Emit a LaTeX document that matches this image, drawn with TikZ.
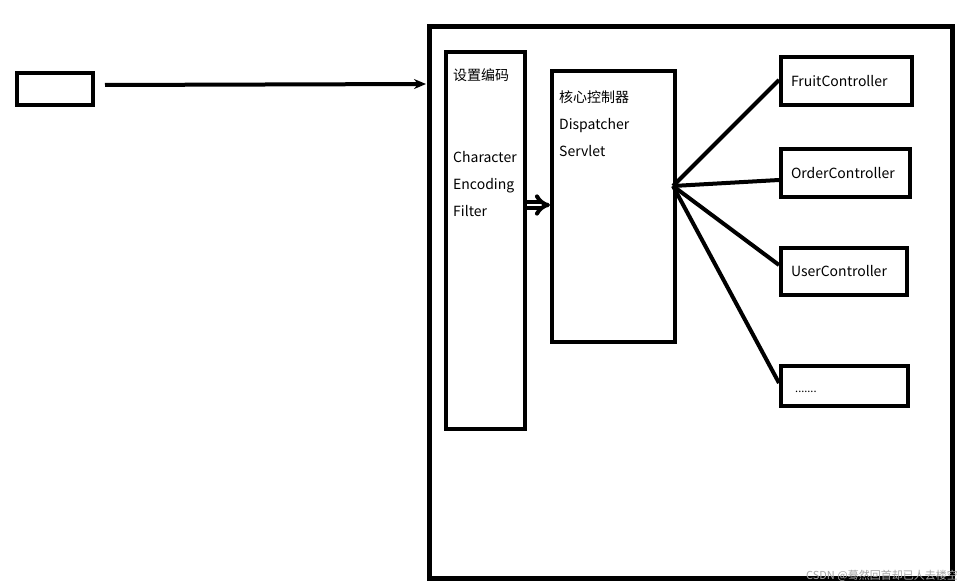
\documentclass[tikz,border=0pt]{standalone}
\usepackage{fontspec}
\setmainfont{Noto Sans CJK SC}
\usetikzlibrary{arrows.meta}
\tikzset{
    box/.style={draw, line width=4pt, inner sep=0pt},
    lbl/.style={anchor=north west, inner sep=0pt, font=\fontsize{14}{27}\selectfont, align=left},
    ctrl/.style={draw, line width=4pt, minimum height=48pt, inner xsep=10pt, align=left, font=\fontsize{14}{16}\selectfont},
    link/.style={line width=4pt}
}
\begin{document}
\begin{tikzpicture}[x=1pt, y=-1pt]
        \useasboundingbox (0,0) rectangle (961,583);

        % client box and request arrow
        \node[box, minimum width=76pt, minimum height=32pt] (client) at (55,89) {};
        \draw[link, -{Stealth[length=12pt, width=10pt]}] (client.east) ++(10,-4) coordinate (req) -- (426,84) coordinate (reqend);

        % server (big box)
        \draw[line width=5pt] (429,27) rectangle (952,578);

        % filter
        \node[box, minimum width=79pt, minimum height=377pt] (filter) at (485.5,240.5) {};
        \node[lbl] (filtertitle) at (453,68) {设置编码};
        \node[lbl] (filtertext) at (453,151) {Character\\Encoding\\Filter};

        % dispatcher servlet
        \node[box, minimum width=123pt, minimum height=271pt] (servlet) at (613.5,206.5) {};
        \node[lbl] (servlettext) at (559,90) {核心控制器\\Dispatcher\\Servlet};

        \draw[line width=4pt, double distance=2.5pt, -{Implies}] (filter.east |- 0,205) -- (servlet.west |- 0,205);

        % controllers
        \node[ctrl, minimum width=131pt, text width=111pt] (fruit) at (846.5,81) {FruitController};
        \node[ctrl, minimum width=129pt, text width=109pt] (order) at (845.5,173) {OrderController};
        \node[ctrl, minimum width=126pt, text width=106pt, minimum height=47pt] (user) at (844,271.5) {UserController};
        \node[ctrl, minimum width=127pt, minimum height=40pt] (more) at (844.5,386) {};
        \node[anchor=base west, inner sep=0pt, font=\fontsize{11}{12}\selectfont] (moretext) at (795,392) {.......};

        \coordinate (hub) at (673,186);
        \draw[link] (hub) -- (fruit.west |- 0,80);
        \draw[link] (hub) -- (order.west |- 0,180);
        \draw[link] (hub) -- (user.west |- 0,265);
        \draw[link] (hub) -- (more.west |- 0,383);

        % watermark
        \node[anchor=east, inner sep=0pt, text=gray!70, font=\fontsize{11}{11}\selectfont] (mark) at (958,576) {CSDN @蓦然回首却已人去楼空};
    \end{tikzpicture}
\end{document}
